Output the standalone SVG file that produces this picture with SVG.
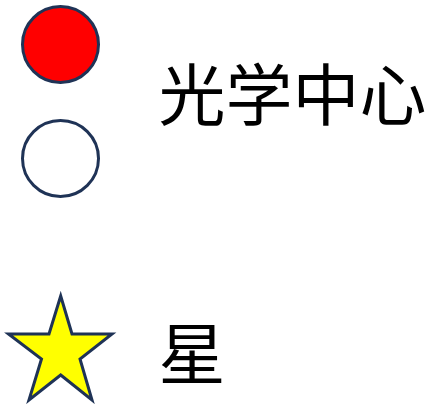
<svg xmlns="http://www.w3.org/2000/svg" width="432" height="404" viewBox="0 0 432 404">
<style>
.shape{stroke:#1f3356;stroke-width:3}
.lbl{font-family:"Noto Sans CJK SC","Noto Sans CJK JP",sans-serif;font-size:67px;fill:#000}
</style>
<rect width="432" height="404" fill="#fff"/>
<g id="red-circle"><circle class="shape" cx="60.5" cy="44.5" r="38" fill="#ff0000"/></g>
<g id="white-circle"><circle class="shape" cx="60.5" cy="158.5" r="38" fill="#fff"/></g>
<g id="label-optical-center"><text class="lbl" x="158.5" y="120">光学中心</text></g>
<g id="star"><polygon class="shape" fill="#ffff00" stroke-linejoin="miter" points="60.7,296 72,334 112,334 80,359 92,400 60.7,375 29,400 41.5,359 8.5,334 49,334"/></g>
<g id="label-star"><text class="lbl" x="158.5" y="379">星</text></g>
<g id="connectors"></g>
</svg>
